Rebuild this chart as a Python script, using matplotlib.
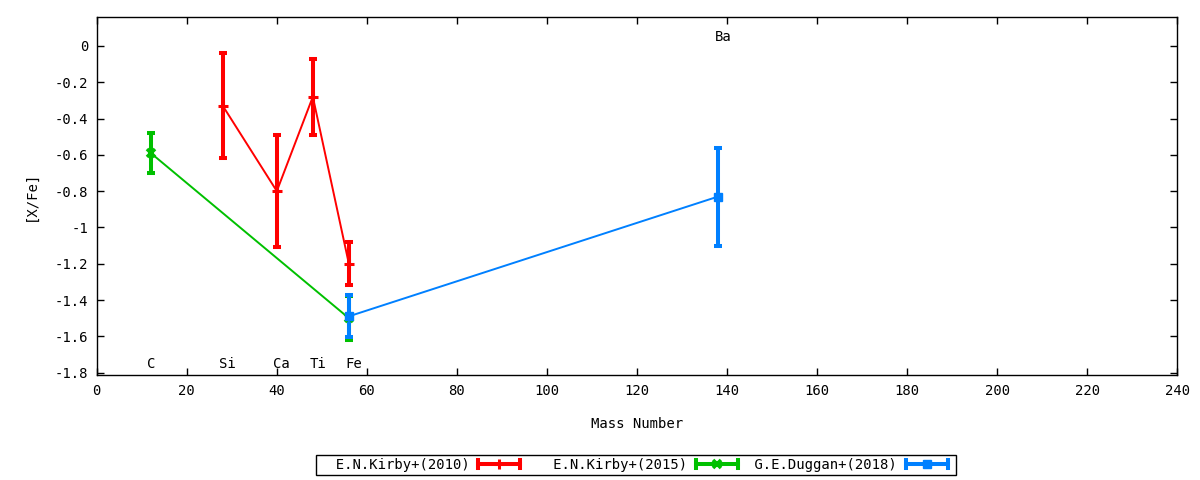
import matplotlib
matplotlib.use("Agg")
import matplotlib.pyplot as plt
from matplotlib.legend_handler import HandlerBase
from matplotlib.lines import Line2D
from matplotlib.ticker import FormatStrFormatter, MultipleLocator

# mass number, [X/Fe], error
kirby2010_mass = [28, 40, 48, 56]
kirby2010_val = [-0.33, -0.80, -0.28, -1.20]
kirby2010_err = [0.29, 0.31, 0.21, 0.12]

kirby2015_mass = [12, 56]
kirby2015_val = [-0.59, -1.50]
kirby2015_err = [0.11, 0.12]

duggan2018_mass = [56, 138]
duggan2018_val = [-1.49, -0.83]
duggan2018_err = [0.115, 0.27]

element_names = ["C", "Si", "Ca", "Ti", "Fe", "Ba"]
element_mass = [12, 28, 40, 48, 56, 138]
element_y = [-1.75, -1.75, -1.75, -1.75, -1.75, 0.05]

# label, x, y, err, colour, marker, marker size, marker edge width
series = [
    ("  E.N.Kirby+(2010)", kirby2010_mass, kirby2010_val, kirby2010_err, "#ff0000", "+", 7, 2.2),
    ("   E.N.Kirby+(2015)", kirby2015_mass, kirby2015_val, kirby2015_err, "#00c000", "x", 5.5, 2.6),
    (" G.E.Duggan+(2018)", duggan2018_mass, duggan2018_val, duggan2018_err, "#0080ff", "s", 6.3, 1),
]

plt.rcParams["font.family"] = ["DejaVu Sans Mono"]
plt.rcParams["font.size"] = 10
plt.rcParams["axes.unicode_minus"] = False


class GnuplotErrHandler(HandlerBase):
    # horizontal errorbar sample with end caps and a marker in the middle
    def create_artists(self, legend, orig_handle, xdescent, ydescent, width, height, fontsize, trans):
        color = orig_handle.get_color()
        y = height / 2 - ydescent
        x0, x1 = -xdescent, width - xdescent - 4
        arts = [Line2D([x0, x1], [y, y], color=color, lw=2.9, transform=trans),
                Line2D([x0, x0], [y - 3, y + 3], color=color, lw=2.9, transform=trans),
                Line2D([x1, x1], [y - 3, y + 3], color=color, lw=2.9, transform=trans),
                Line2D([(x0 + x1) / 2], [y], color=color, marker=orig_handle.get_marker(),
                       markersize=orig_handle.get_markersize(),
                       markeredgewidth=orig_handle.get_markeredgewidth(), transform=trans)]
        return arts


fig = plt.figure(figsize=(12, 4.8), dpi=100)
ax = fig.add_axes([0.0806, 0.2181, 0.9005, 0.7459])

handles = []
for label, mass, val, err, color, marker, ms, mew in series:
    ax.plot(mass, val, color=color, lw=1.4, zorder=2)
    ax.errorbar(mass, val, yerr=err, fmt="none", ecolor=color, elinewidth=2.9,
                capsize=3, capthick=2.9, zorder=3)
    ax.plot(mass, val, linestyle="none", marker=marker, color=color, markersize=ms,
            markeredgewidth=mew, zorder=4)
    handles.append(Line2D([], [], color=color, marker=marker, markersize=ms,
                          markeredgewidth=mew, label=label))

for name, m, y in zip(element_names, element_mass, element_y):
    ax.text(m - 0.8, y, name, ha="left", va="center", fontsize=10)

ax.set_xlim(0, 240)
ax.set_ylim(-1.815, 0.158)
ax.xaxis.set_major_locator(MultipleLocator(20))
ax.yaxis.set_major_locator(MultipleLocator(0.2))
ax.yaxis.set_major_formatter(FormatStrFormatter("%g"))
ax.tick_params(direction="in", top=True, right=True, length=5, width=1, labelsize=10, pad=6)
for sp in ax.spines.values():
    sp.set_linewidth(1)

ax.set_xlabel("Mass Number", labelpad=14)
ax.set_ylabel("[X/Fe]", labelpad=12)

leg = fig.legend(handles=handles, handler_map={Line2D: GnuplotErrHandler()},
                 loc="center", bbox_to_anchor=(0.53, 0.031), ncol=3, markerfirst=False,
                 frameon=True, fancybox=False, framealpha=1, edgecolor="black",
                 borderpad=0.2, borderaxespad=0, handlelength=3.4, columnspacing=0.2,
                 handletextpad=0.65, fontsize=10)
leg.get_frame().set_linewidth(1)

fig.savefig("out.png", dpi=100)
